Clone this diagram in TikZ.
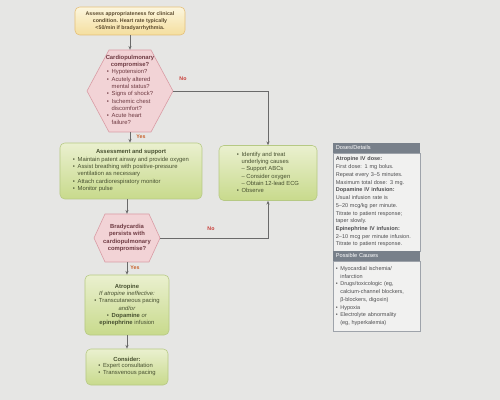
\documentclass[tikz,border=0pt]{standalone}
\usepackage{fontspec}
\setmainfont{Liberation Sans}
\usetikzlibrary{arrows.meta}

\definecolor{paper}{HTML}{E6E6E4}
\definecolor{linegray}{HTML}{6A6A6A}
\definecolor{ylwline}{HTML}{E5BF78}
\definecolor{ylwtop}{HTML}{FCF6DE}
\definecolor{ylwbot}{HTML}{F4DE9E}
\definecolor{ylwtext}{HTML}{5C4B2E}
\definecolor{pinkline}{HTML}{D99BA4}
\definecolor{pinkfill}{HTML}{F2D3D6}
\definecolor{pinktext}{HTML}{6E3A42}
\definecolor{grnline}{HTML}{B6C984}
\definecolor{grntop}{HTML}{EAF0CF}
\definecolor{grnbot}{HTML}{C8DA8C}
\definecolor{grntext}{HTML}{475030}
\definecolor{nored}{HTML}{C83B35}
\definecolor{yesred}{HTML}{C8602A}
\definecolor{slate}{HTML}{78808A}
\definecolor{panelline}{HTML}{9EA3AA}
\definecolor{panelbg}{HTML}{F1F1F0}
\definecolor{paneltext}{HTML}{4E4E50}

\newcommand{\bl}{\makebox[0.8em][l]{\textbullet}}
\newcommand{\ind}{\hspace*{0.8em}}

\begin{document}
\begin{tikzpicture}[
		x=0.03cm, y=-0.03cm,
		font=\fontsize{5}{6.2}\selectfont,
		entry/.style = {rectangle, rounded corners=4pt, draw=ylwline, top color=ylwtop, bottom color=ylwbot, line width=0.5pt, text=ylwtext, align=center, minimum width=3.3cm, minimum height=0.84cm, inner sep=1pt, font=\fontsize{4.5}{6}\selectfont\bfseries},
		hexa/.style  = {draw=pinkline, fill=pinkfill, line width=0.5pt},
		qtxt/.style  = {align=center, text=pinktext, inner sep=0pt},
		act/.style   = {rectangle, rounded corners=4pt, draw=grnline, top color=grntop, bottom color=grnbot, line width=0.5pt, text=grntext, align=center, inner sep=2pt},
		lnk/.style   = {-{Stealth[length=3.2pt,width=2.6pt]}, draw=linegray, line width=0.45pt},
		lblno/.style = {text=nored, font=\fontsize{4.5}{5}\selectfont\bfseries},
		lblyes/.style= {text=yesred, font=\fontsize{4.5}{5}\selectfont\bfseries},
		hdr/.style   = {rectangle, fill=slate, text=white, text width=2.45cm, inner xsep=0.08cm, inner ysep=0pt, minimum height=0.28cm, align=left, font=\fontsize{4.8}{5}\selectfont},
		panel/.style = {rectangle, draw=panelline, fill=panelbg, line width=0.4pt, text width=2.45cm, inner xsep=0.08cm, inner ysep=2.5pt, align=left, text=paneltext, font=\fontsize{4.7}{6.6}\selectfont}
		]
		
		\fill[paper] (0,0) rectangle (500,400);
		\useasboundingbox (0,0) rectangle (500,400);
		
		% main column
		\node[entry]	(assess)	at	(130, 21)	{Assess appropriateness for clinical\\condition. Heart rate typically\\<50/min if bradyarrhythmia.};
		
		\draw[hexa]	(87, 91) -- (109, 50) -- (151, 50) -- (173, 91) -- (151, 132) -- (109, 132) -- cycle;
		\node[qtxt, minimum width=2.58cm, minimum height=2.46cm]	(q1)	at	(130, 91)	{\textbf{Cardiopulmonary}\\\textbf{compromise?}\\
			\begin{tabular}{@{}l@{}}
				\bl Hypotension?\\
				\bl Acutely altered\\
				\ind mental status?\\
				\bl Signs of shock?\\
				\bl Ischemic chest\\
				\ind discomfort?\\
				\bl Acute heart\\
				\ind failure?
			\end{tabular}};
		
		\node[act, minimum width=4.26cm, minimum height=1.68cm]	(support)	at	(131, 171)	{\textbf{Assessment and support}\\
			\begin{tabular}{@{}l@{}}
				\bl Maintain patent airway and provide oxygen\\
				\bl Assist breathing with positive-pressure\\
				\ind ventilation as necessary\\
				\bl Attach cardiorespiratory monitor\\
				\bl Monitor pulse
			\end{tabular}};
		
		\node[act, minimum width=2.94cm, minimum height=1.65cm]	(treat)	at	(268, 173)	{\begin{tabular}{@{}l@{}}
				\bl Identify and treat\\
				\ind underlying causes\\
				\ind\makebox[0.8em][l]{\textendash}Support ABCs\\
				\ind\makebox[0.8em][l]{\textendash}Consider oxygen\\
				\ind\makebox[0.8em][l]{\textendash}Obtain 12-lead ECG\\
				\bl Observe
			\end{tabular}};
		
		\draw[hexa]	(94, 238) -- (105, 214) -- (149, 214) -- (160, 238) -- (149, 262) -- (105, 262) -- cycle;
		\node[qtxt, minimum width=1.98cm, minimum height=1.44cm]	(q2)	at	(127, 238)	{\textbf{Bradycardia}\\\textbf{persists with}\\\textbf{cardiopulmonary}\\\textbf{compromise?}};
		
		\node[act, minimum width=2.52cm, minimum height=1.8cm]	(atro)	at	(127, 305)	{\textbf{Atropine}\\
			\textit{If atropine ineffective:}\\
			\bl Transcutaneous pacing\\
			\textit{and/or}\\
			\bl \textbf{Dopamine} \textit{or}\\
			\textbf{epinephrine} infusion};
		
		\node[act, minimum width=2.46cm, minimum height=1.08cm]	(consider)	at	(127, 367)	{\textbf{Consider:}\\
			\begin{tabular}{@{}l@{}}
				\bl Expert consultation\\
				\bl Transvenous pacing
			\end{tabular}};
		
		% connectors
		\draw[lnk]	(assess.south)	to	(q1.north);
		\draw[lnk]	(q1.south)	to	(support.north -| q1.south);
		\draw[lnk]	(q1.east)	-|	(treat.north);
		\draw[lnk]	(support.south -| q2.north)	to	(q2.north);
		\draw[lnk]	(q2.east)	-|	(treat.south);
		\draw[lnk]	(q2.south)	to	(atro.north);
		\draw[lnk]	(atro.south)	to	(consider.north);
		
		\node[lblno]	(no1)	at	(183, 79)	{No};
		\node[lblyes]	(yes1)	at	(141, 137)	{Yes};
		\node[lblno]	(no2)	at	(211, 229)	{No};
		\node[lblyes]	(yes2)	at	(135, 268)	{Yes};
		
		% side panels
		\node[hdr, anchor=north west]	(dosehd)	at	(333, 143)	{Doses/Details};
		\node[panel, anchor=north west, minimum height=2.94cm]	(dose)	at	(dosehd.south west)	{\textbf{Atropine IV dose:}\\
			First dose: 1 mg bolus.\\
			Repeat every 3--5 minutes.\\
			Maximum total dose: 3 mg.\\
			\textbf{Dopamine IV infusion:}\\
			Usual infusion rate is\\
			5--20 mcg/kg per minute.\\
			Titrate to patient response;\\
			taper slowly.\\
			\textbf{Epinephrine IV infusion:}\\
			2--10 mcg per minute infusion.\\
			Titrate to patient response.};
		
		\node[hdr, anchor=north west]	(posshd)	at	(333, 251)	{Possible Causes};
		\node[panel, anchor=north west, minimum height=2.1cm]	(poss)	at	(posshd.south west)	{\bl Myocardial ischemia/\\
			\ind infarction\\
			\bl Drugs/toxicologic (eg,\\
			\ind calcium-channel blockers,\\
			\ind β-blockers, digoxin)\\
			\bl Hypoxia\\
			\bl Electrolyte abnormality\\
			\ind (eg, hyperkalemia)};
\end{tikzpicture}
\end{document}
